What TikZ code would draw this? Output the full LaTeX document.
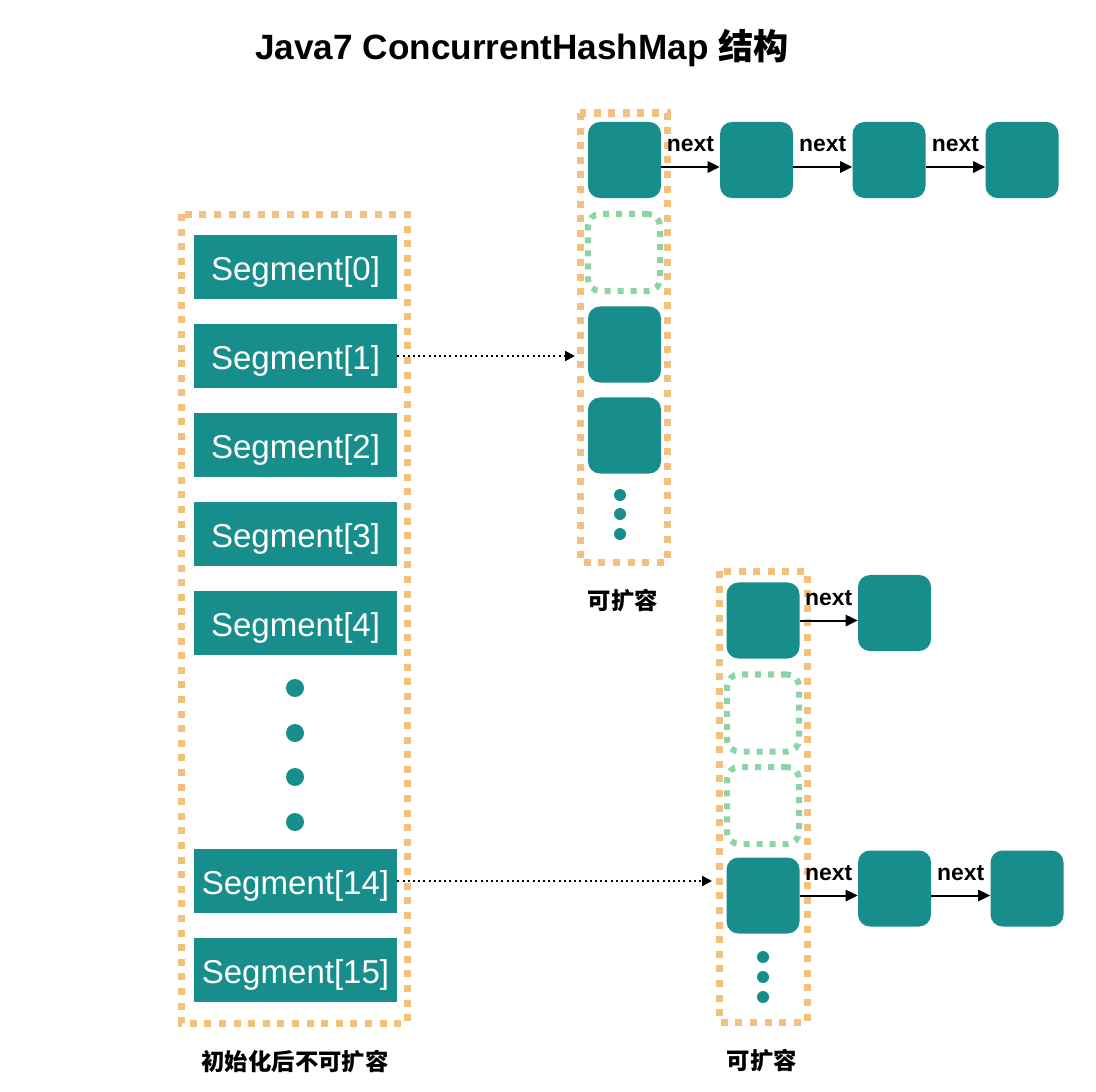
\documentclass[tikz,border=0pt]{standalone}
\usepackage{fontspec}
\setmainfont{Liberation Sans}
\newfontfamily\cjk{Noto Sans CJK SC}
\usetikzlibrary{arrows.meta}
\definecolor{cellteal}{HTML}{178E8B}
\definecolor{framecolor}{HTML}{F3C07E}
\definecolor{emptyslot}{HTML}{8DD3A8}

\begin{document}
\begin{tikzpicture}[x=0.025cm,y=-0.025cm,
  segment/.style={fill=cellteal, text=white, minimum width=5.075cm, minimum height=1.6cm, inner sep=0pt, text height=0.75cm, text depth=0.08cm, font=\fontsize{23.5}{28}\selectfont},
  entry/.style={fill=cellteal, rounded corners=0.3cm, minimum width=1.825cm, minimum height=1.9cm, inner sep=0pt},
  emptyentry/.style={draw=emptyslot, line width=0.15cm, dash pattern=on 0.15cm off 0.175cm, rounded corners=0.3cm, minimum width=1.8cm, minimum height=1.925cm, inner sep=0pt},
  bucketframe/.style={draw=framecolor, line width=0.175cm, dash pattern=on 0.175cm off 0.19cm},
  nextarrow/.style={line width=0.05cm, -{Triangle[length=0.3cm,width=0.28cm]}},
  nextlabel/.style={midway, above=0.35cm, inner sep=0pt, font=\bfseries\fontsize{16.3}{19}\selectfont},
  segarrow/.style={line width=0.05cm, dash pattern=on 0.05cm off 0.08cm, -{Triangle[length=0.25cm,width=0.25cm]}},
  caption/.style={font=\cjk\bfseries\fontsize{16.6}{20}\selectfont}]

  \useasboundingbox (0,0) rectangle (1096,1091);

  \node[font=\bfseries\fontsize{25}{30}\selectfont] (title) at (522,48) {Java7 ConcurrentHashMap {\cjk 结构}};

% Segment array
  \draw[bucketframe] (181,214) rectangle (407,1023);

  \node[segment] (seg_0) at (295.5,267) {Segment[0]};
  \node[segment] (seg_1) at (295.5,356) {Segment[1]};
  \node[segment] (seg_2) at (295.5,445) {Segment[2]};
  \node[segment] (seg_3) at (295.5,534) {Segment[3]};
  \node[segment] (seg_4) at (295.5,623) {Segment[4]};
  \node[segment] (seg_14) at (295.5,881) {Segment[14]};
  \node[segment] (seg_15) at (295.5,970) {Segment[15]};

  \fill[cellteal] (295,688) circle[radius=0.225cm];
  \fill[cellteal] (295,733) circle[radius=0.225cm];
  \fill[cellteal] (295,777) circle[radius=0.225cm];
  \fill[cellteal] (295,822) circle[radius=0.225cm];

  \node[caption] (seg_label) at (295,1062) {初始化后不可扩容};

% Upper HashEntry table
  \draw[bucketframe] (580,113) rectangle (667,562);

  \node[entry] (colA_0) at (624.5,160) {};
  \node[emptyentry] (colA_1) at (624,252.5) {};
  \node[entry] (colA_2) at (624.5,344.5) {};
  \node[entry] (colA_3) at (624.5,435.5) {};

  \fill[cellteal] (620,495) circle[radius=0.15cm];
  \fill[cellteal] (620,514) circle[radius=0.15cm];
  \fill[cellteal] (620,534) circle[radius=0.15cm];

  \node[caption] (colA_label) at (623,601) {可扩容};

  \node[entry] (chainA_1) at (756.5,160) {};
  \node[entry] (chainA_2) at (889,160) {};
  \node[entry] (chainA_3) at (1022,160) {};

  \draw[nextarrow] ([yshift=-0.175cm]colA_0.east) -- node[nextlabel] {next} ([yshift=-0.175cm]chainA_1.west);
  \draw[nextarrow] ([yshift=-0.175cm]chainA_1.east) -- node[nextlabel] {next} ([yshift=-0.175cm]chainA_2.west);
  \draw[nextarrow] ([yshift=-0.175cm]chainA_2.east) -- node[nextlabel] {next} ([yshift=-0.175cm]chainA_3.west);

% Lower HashEntry table
  \draw[bucketframe] (719,571) rectangle (807,1022);

  \node[entry] (colB_0) at (763,620.5) {};
  \node[emptyentry] (colB_1) at (763,713) {};
  \node[emptyentry] (colB_2) at (763,805.5) {};
  \node[entry] (colB_3) at (763,895.5) {};

  \fill[cellteal] (763,957) circle[radius=0.15cm];
  \fill[cellteal] (763,977) circle[radius=0.15cm];
  \fill[cellteal] (763,997) circle[radius=0.15cm];

  \node[caption] (colB_label) at (762,1061) {可扩容};

  \node[entry] (chainB_1) at (894.5,613) {};
  \node[entry] (chainC_1) at (894.5,888.5) {};
  \node[entry] (chainC_2) at (1027,888.5) {};

  \draw[nextarrow] (colB_0.east) -- node[nextlabel] {next} (colB_0.east -| chainB_1.west);
  \draw[nextarrow] (colB_3.east) -- node[nextlabel] {next} (colB_3.east -| chainC_1.west);
  \draw[nextarrow] ([yshift=-0.175cm]chainC_1.east) -- node[nextlabel] {next} ([yshift=-0.175cm]chainC_2.west);

% Segment to table
  \coordinate (inA) at (575,356);
  \coordinate (inB) at (712,881);
  \draw[segarrow] (seg_1.east) -- (inA);
  \draw[segarrow] (seg_14.east) -- (inB);

\end{tikzpicture}
\end{document}
